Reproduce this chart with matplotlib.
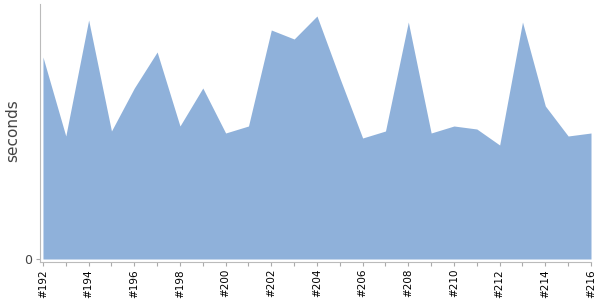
import numpy as np
import matplotlib
matplotlib.use("Agg")
import matplotlib.pyplot as plt

builds = list(range(192, 217))
seconds = [202, 123, 239, 128, 171, 207, 133, 171, 126, 133, 229, 220, 243,
           181, 121, 128, 237, 126, 133, 130, 114, 237, 153, 123, 126]
tick_labels = ["#%d" % b for b in builds]

fig = plt.figure(figsize=(6, 3), dpi=100)
ax = fig.add_axes([40 / 600, 38 / 300, 551 / 600, 258 / 300])

x = np.arange(len(builds))
ax.fill_between(x, 0, seconds, color="#8fb1da", linewidth=0)

ax.set_xlim(-0.13, len(builds) - 1)
ax.set_ylim(-3, 255)

ax.set_xticks(x)
ax.set_xticklabels([t if i % 2 == 0 else "" for i, t in enumerate(tick_labels)],
                   rotation=90, fontsize=7.5)
ax.set_yticks([0])
ax.set_yticklabels(["0"], fontsize=9, color="#444444")
ax.tick_params(axis="x", length=3, color="#aaaaaa", pad=2)
ax.tick_params(axis="y", length=3, color="#aaaaaa", pad=3)

for side in ["top", "right"]:
    ax.spines[side].set_visible(False)
for side in ["left", "bottom"]:
    ax.spines[side].set_color("#bbbbbb")

ax.set_ylabel("seconds", fontsize=11, color="#444444")
ax.yaxis.set_label_coords(-0.036, 0.51)

fig.savefig("out.png", dpi=100)
